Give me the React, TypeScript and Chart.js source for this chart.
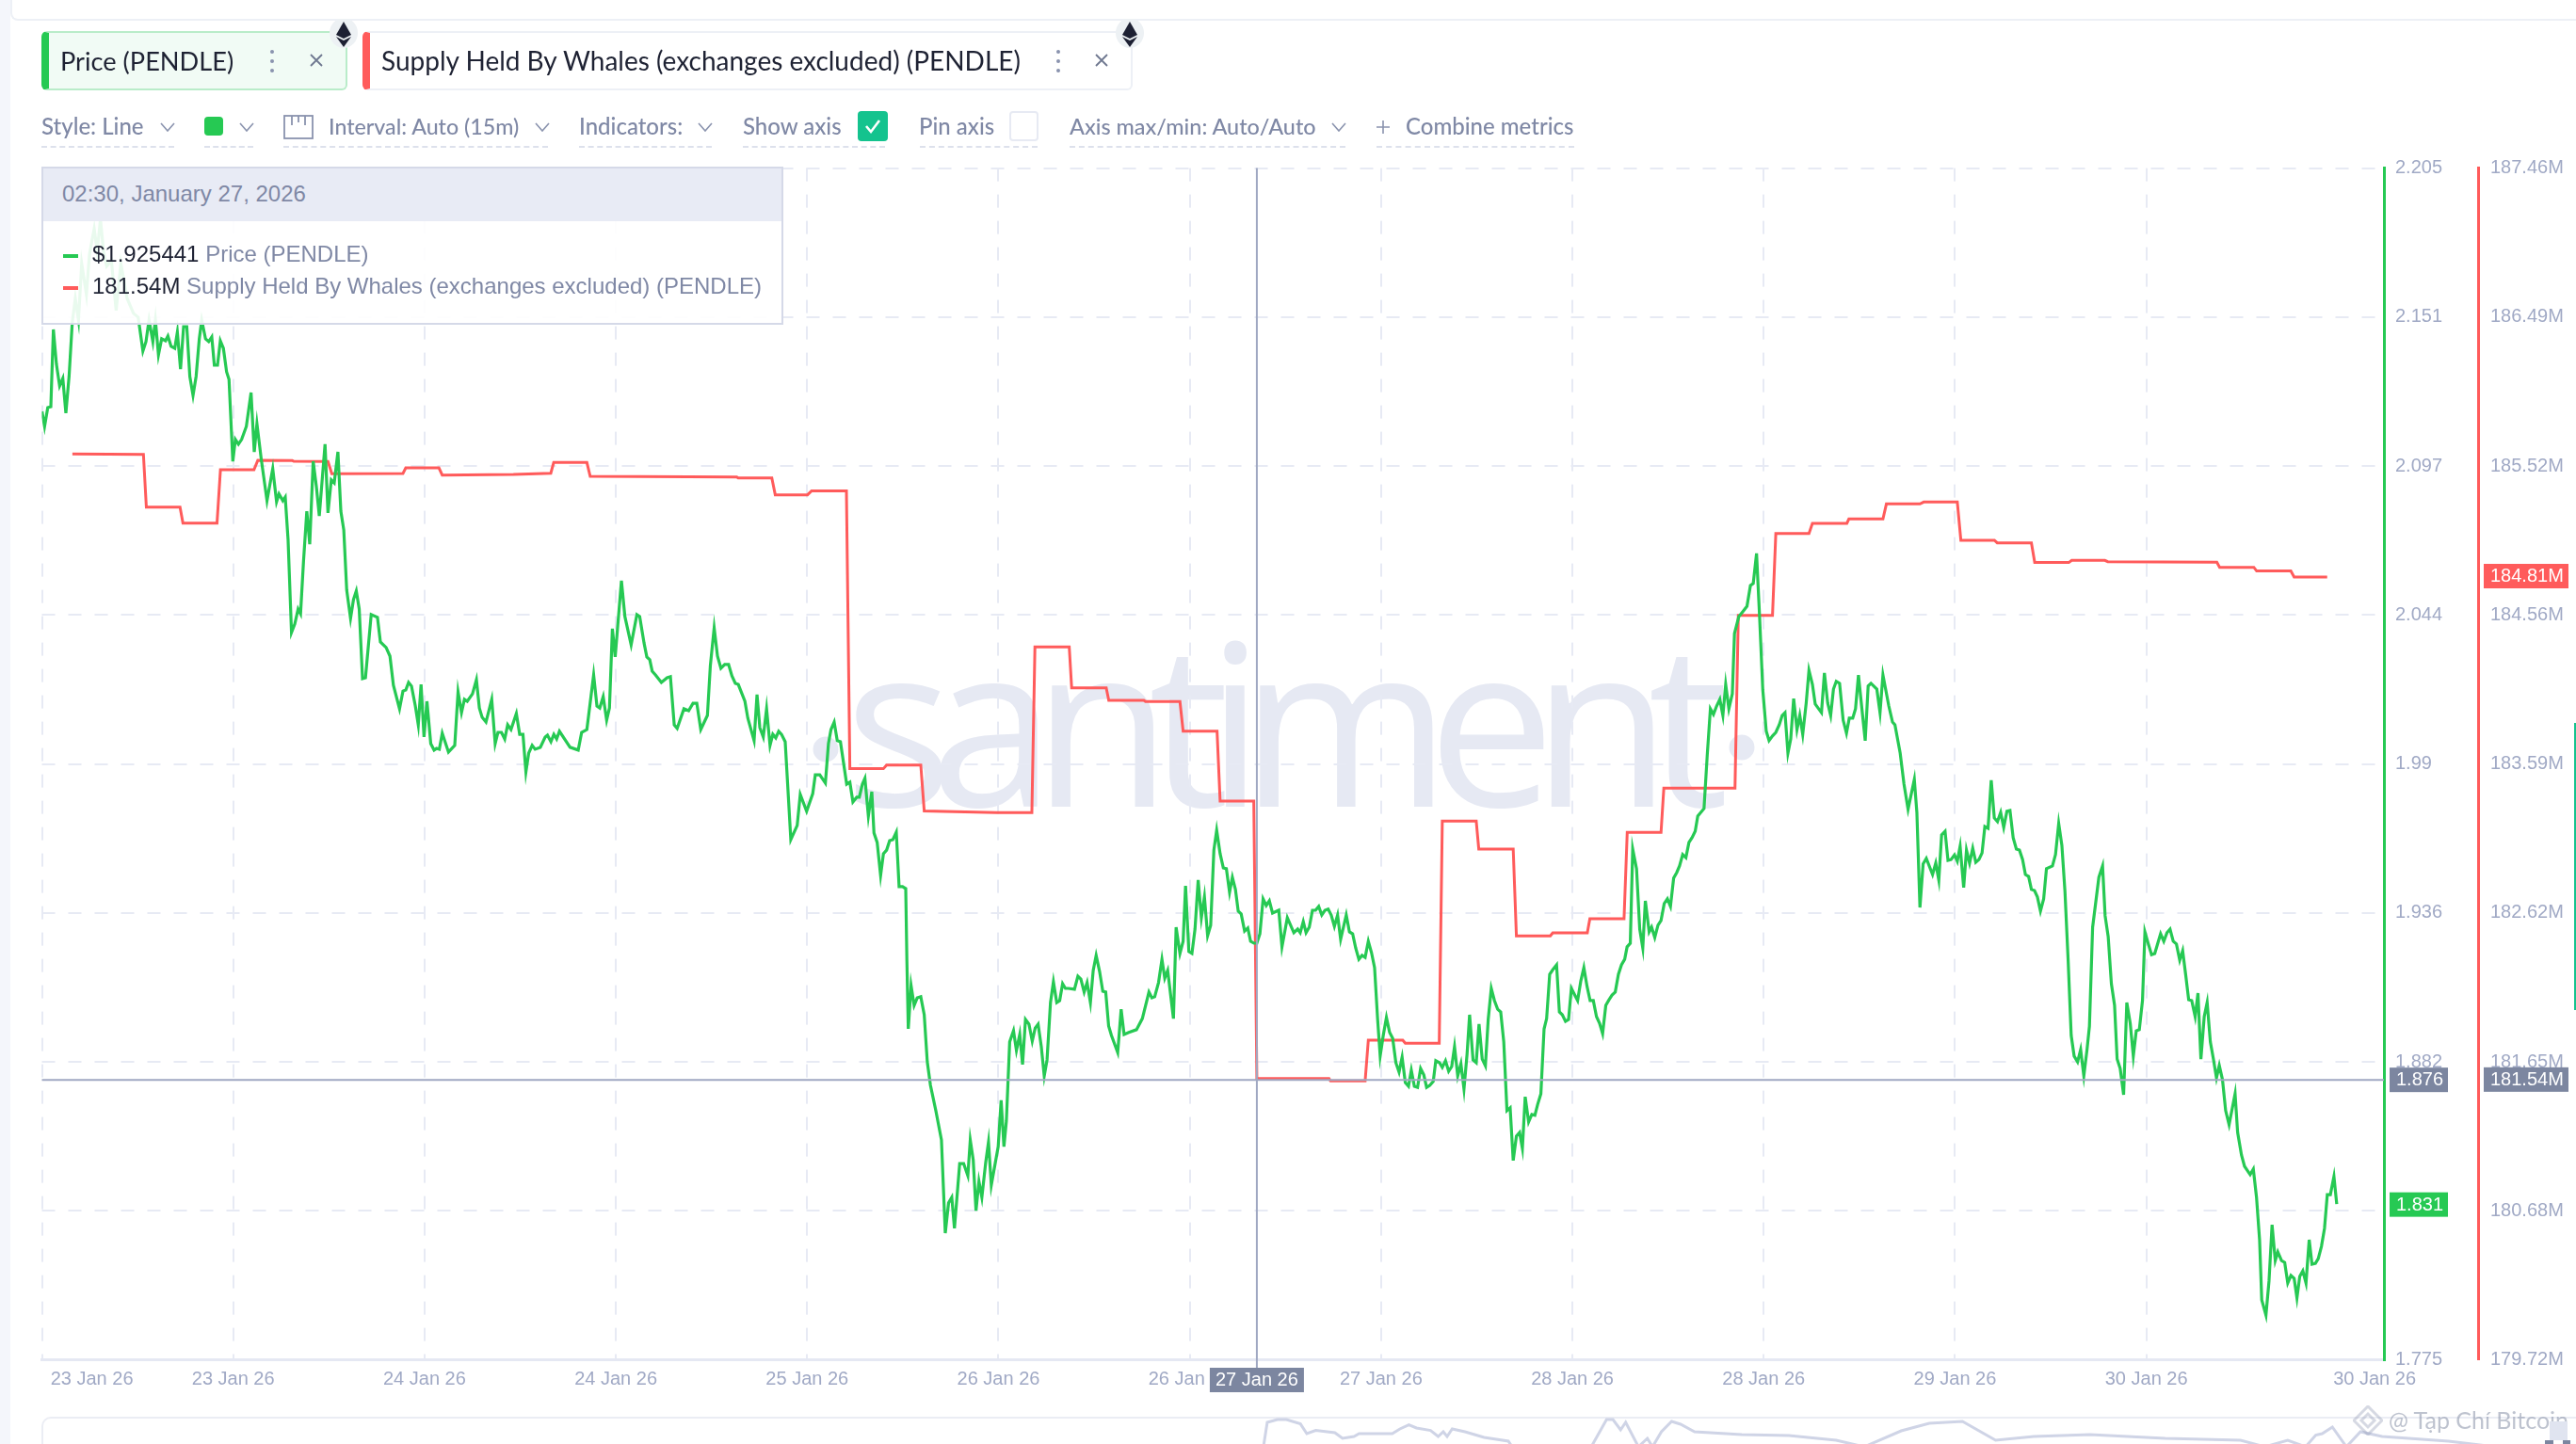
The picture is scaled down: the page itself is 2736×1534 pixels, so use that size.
import React, { useEffect, useRef } from 'react';
import { Chart, registerables } from 'chart.js';

Chart.register(...registerables);

// hours since the left edge of the chart, 15m data
const priceHours = [
  0.01, 0.21, 0.46, 0.7, 0.9, 1.14, 1.39, 1.64, 1.88, 2.13, 2.38, 2.62, 2.87, 3.12, 3.49, 3.73, 4.1, 4.34, 4.59, 4.83, 5.08, 5.45, 5.82, 6.19, 6.68, 7.18, 7.55, 7.92, 8.16, 8.4, 8.7, 8.9, 9.14, 9.39, 9.69, 9.88, 10.13, 10.42, 10.62, 10.87, 11.11, 11.36, 11.6, 11.85, 12.09, 12.34, 12.53, 12.83, 13.08, 13.32, 13.52, 13.77, 13.99, 14.23, 14.48, 14.67, 14.97, 15.17, 15.41, 15.66, 16.03, 16.4, 16.65, 16.86, 17.19, 17.65, 18.1, 18.4, 18.59, 18.89, 19.08, 19.3, 19.57, 19.83, 20.09, 20.28, 20.51, 20.77, 21.0, 21.27, 21.52, 21.75, 22.2, 22.43, 22.69, 22.92, 23.21, 23.44, 23.67, 23.9, 24.2, 24.43, 24.65, 24.88, 25.14, 25.37, 25.82, 26.31, 26.54, 26.99, 27.29, 27.56, 28.04, 28.31, 28.53, 28.75, 28.98, 29.28, 29.51, 29.73, 29.96, 30.19, 30.49, 30.75, 30.94, 31.16, 31.39, 31.88, 32.37, 32.63, 32.9, 33.13, 33.35, 33.76, 34.07, 34.3, 34.52, 34.82, 35.27, 35.54, 35.76, 36.03, 36.29, 36.52, 36.78, 37.2, 37.46, 37.72, 37.95, 38.17, 38.44, 38.67, 39.08, 39.46, 39.64, 39.91, 40.14, 40.36, 40.58, 41.41, 42.05, 42.32, 42.73, 43.26, 43.52, 43.74, 44.01, 44.28, 44.5, 44.73, 44.95, 45.44, 45.71, 46.2, 46.65, 46.87, 47.21, 47.43, 47.66, 47.85, 48.11, 48.57, 49.02, 49.28, 49.58, 49.81, 50.34, 50.71, 51.05, 51.35, 51.66, 52.18, 52.41, 52.71, 52.97, 53.24, 53.54, 53.84, 54.1, 54.37, 54.6, 55.12, 55.35, 55.84, 56.07, 56.29, 56.56, 56.82, 57.09, 57.31, 57.54, 57.77, 57.99,
  58.28, 58.72, 59.22, 59.46, 59.96, 60.44, 60.64, 60.99, 61.43, 61.67, 61.87, 62.12, 62.36, 62.61, 63.1, 63.35, 63.59, 63.89, 64.09, 64.33, 64.53, 64.8, 65.07, 65.24, 65.49, 65.76, 65.98, 66.23, 66.47, 66.72, 66.99, 67.21, 67.48, 67.73, 67.82, 67.93, 68.15, 68.39, 68.63, 68.91, 69.18, 69.42, 69.67, 70.09, 70.53, 70.83, 71.09, 71.34, 71.55, 71.96, 72.27, 72.6, 72.79, 73.02, 73.24, 73.47, 73.7, 74.0, 74.22, 74.44, 74.98, 75.21, 75.43, 75.62, 75.88, 76.18, 76.41, 76.67, 76.89, 77.12, 77.39, 77.65, 77.88, 78.11, 78.36, 78.59, 78.81, 79.08, 79.31, 79.57, 79.8, 80.03, 80.25, 80.48, 80.96, 81.23, 81.46, 81.72, 81.95, 82.21, 82.43, 82.66, 82.93, 83.18, 83.41, 83.64, 83.86, 84.35, 84.62, 84.85, 85.22, 85.82, 86.28, 86.8, 87.03, 87.25, 87.55, 87.82, 88.04, 88.27, 88.72, 88.93, 89.23, 89.48, 89.67, 89.93, 90.17, 90.41, 90.66, 90.91, 91.15, 91.4, 91.64, 91.89, 92.11, 92.38, 92.63, 92.87, 93.12, 93.34, 93.58, 93.8, 94.03, 94.3, 94.55, 94.77, 95.04, 95.26,
  95.5, 95.75, 96.0, 96.24, 96.49, 96.98, 97.23, 97.65, 98.16, 98.46, 98.66, 98.9, 99.12, 99.37, 99.62, 99.86, 100.11, 100.35, 100.6, 100.85, 101.09, 101.34, 101.59, 101.83, 102.27, 102.52, 102.77, 103.01, 103.26, 103.51, 103.75, 104.0, 104.25, 104.49, 104.73, 104.93, 105.17, 105.42, 105.67, 105.91, 106.16, 106.41, 106.65, 106.9, 107.15, 107.37, 107.61, 107.86, 108.1, 108.35, 108.57, 108.82, 109.09, 109.29, 109.58, 109.8, 110.05, 110.3, 110.54, 110.76, 111.01, 111.26, 111.5, 111.74, 111.94, 112.21, 112.46, 112.68, 112.93, 113.18, 113.4, 113.64, 113.89, 114.14, 114.38, 114.62, 114.87, 115.12, 115.36, 115.61, 115.86, 116.08, 116.3, 116.57, 116.82, 117.06, 117.28, 117.53, 117.78, 117.98, 118.22, 118.47, 118.76, 118.98, 119.21, 119.46, 119.7, 119.92, 120.41, 120.66, 120.9, 121.15, 121.39, 121.64, 121.89, 122.13, 122.37, 122.62, 122.87, 123.11, 123.36, 123.61, 123.85, 124.1, 124.29, 124.54, 124.73, 125.03, 125.28, 125.52, 125.72, 126.02, 126.21, 126.46, 126.71, 126.95, 127.2, 127.45, 127.69, 127.94, 128.18, 128.4, 128.65, 128.9, 129.14, 129.38, 129.63, 129.83, 130.32, 130.57, 130.82, 131.06, 131.31, 131.56, 131.8, 132.02, 132.27, 132.54, 132.71, 133.05, 133.35, 133.69, 133.96, 134.18, 134.44, 134.67, 134.93, 135.2, 135.42, 135.69, 135.95, 136.22, 136.45, 136.67, 136.9, 137.12, 137.35, 137.61, 137.83, 138.06, 138.33, 138.55, 138.82, 139.04, 139.53, 139.76, 140.02, 140.25, 140.47, 140.69, 140.95, 141.23, 141.49, 141.71, 141.98, 142.2, 142.43, 142.7, 142.96, 143.19, 143.41, 143.87, 144.12, 144.35, 144.81, 145.1, 145.29,
  145.7, 146.0, 146.32, 146.81, 147.01, 147.25, 147.5, 147.75, 148.24, 148.49, 148.73, 148.95, 149.22, 149.45, 149.69, 149.96, 150.18, 150.4, 150.68, 150.9, 151.14, 151.39, 151.63, 151.88, 152.12, 152.34, 152.59, 152.84, 153.08, 153.33, 153.58, 153.82, 154.07, 154.31, 154.56, 154.81, 155.05, 155.3, 155.52, 155.77, 155.99, 156.23, 156.46, 156.7, 156.95, 157.17, 157.64, 157.88, 158.13, 158.38, 158.62, 158.87, 159.11, 159.34, 159.61, 159.85, 160.1, 160.35, 160.54, 160.79, 161.28, 161.57, 161.77, 162.01, 162.26, 162.51, 162.71, 162.95, 163.22, 163.47, 163.74, 163.98, 164.21, 164.45, 164.7, 164.89, 165.16, 165.41, 165.66, 165.9, 166.12, 166.37, 166.62, 166.86, 167.11, 167.36, 167.62, 167.85, 168.1, 168.32, 168.56, 168.83, 169.05, 169.28, 169.54, 169.77, 170.02, 170.26, 170.5, 170.72, 170.97, 171.22, 171.49, 171.96, 172.16, 172.46, 172.7, 173.14, 173.39, 173.64, 173.88, 174.05, 174.38, 174.62, 174.86, 175.11, 175.31, 175.6, 175.85, 176.09, 176.34, 176.59, 176.81, 177.03, 177.27, 177.52, 177.77, 177.99, 178.26, 178.48, 178.73, 178.97, 179.19, 179.43, 179.71, 179.93,
];

const priceValues = [
  2.1172, 2.1118, 2.1186, 2.1189, 2.1468, 2.1342, 2.1264, 2.1291, 2.1166, 2.1298, 2.1492, 2.158, 2.1502, 2.1706, 2.1594, 2.174, 2.1832, 2.175, 2.1866, 2.175, 2.1696, 2.1716, 2.1536, 2.1706, 2.158, 2.1526, 2.1512, 2.139, 2.1424, 2.1502, 2.1424, 2.1502, 2.1376, 2.1434, 2.1427, 2.1444, 2.1407, 2.14, 2.1458, 2.1325, 2.1478, 2.1478, 2.1298, 2.123, 2.1298, 2.1434, 2.1502, 2.1434, 2.1424, 2.1441, 2.1339, 2.1339, 2.1427, 2.14, 2.1315, 2.1288, 2.0992, 2.1071, 2.1054, 2.1071, 2.1118, 2.124, 2.1026, 2.1128, 2.1003, 2.085, 2.0965, 2.0846, 2.0874, 2.085, 2.0863, 2.0711, 2.0374, 2.0405, 2.0459, 2.0442, 2.0629, 2.0812, 2.0693, 2.0992, 2.0901, 2.0795, 2.1054, 2.0806, 2.0925, 2.0914, 2.1026, 2.0812, 2.0744, 2.0527, 2.0425, 2.0493, 2.0524, 2.0459, 2.0208, 2.0211, 2.0439, 2.0429, 2.034, 2.032, 2.0289, 2.0184, 2.0099, 2.0163, 2.0167, 2.0194, 2.0181, 2.0109, 2.0041, 2.0187, 1.9997, 2.0126, 1.9973, 1.995, 1.9956, 1.9953, 2.0011, 1.9943, 1.9967, 2.016, 2.0085, 2.0133, 2.0126, 2.0153, 2.0204, 2.0102, 2.0068, 2.0051, 2.0133, 1.9973, 2.0014, 2.0014, 1.999, 2.0041, 2.0024, 2.0082, 2.0007, 2.0007, 1.9871, 1.9939, 1.9967, 1.9953, 1.996, 1.9997, 2.0004, 1.998, 2.0007, 1.999, 2.0018, 1.996, 1.995, 2.0014, 2.0024, 2.0221, 2.0109, 2.0102, 2.0143, 2.0058, 2.0102, 2.0388, 2.0286, 2.0561, 2.0432, 2.033, 2.0439, 2.0432, 2.0337, 2.0286, 2.0276, 2.0235, 2.0221, 2.0194, 2.0211, 2.0215, 2.0041, 2.0028, 2.0099, 2.0092, 2.0119, 2.0119, 2.0024, 2.0075, 2.0255, 2.0391, 2.0289, 2.0245, 2.0259, 2.0259, 2.0218, 2.0191, 2.0187, 2.0126, 2.0065, 1.9984, 2.015, 2.0031, 1.9997, 2.0099, 1.9967, 2.0007, 1.9994, 2.0018, 2.0007,
  1.998, 1.9627, 1.9678, 1.979, 1.9729, 1.9793, 1.9861, 1.9861, 1.9831, 1.9973, 2.0024, 2.0051, 1.9984, 1.998, 1.9827, 1.9834, 1.9763, 1.978, 1.978, 1.9827, 1.9848, 1.9712, 1.98, 1.9651, 1.9617, 1.9498, 1.9576, 1.9589, 1.9623, 1.9627, 1.9654, 1.9457, 1.9457, 1.945, 1.9192, 1.8944, 1.91, 1.9029, 1.9056, 1.906, 1.8995, 1.8825, 1.874, 1.8649, 1.8543, 1.8207, 1.8316, 1.8336, 1.8224, 1.8458, 1.8458, 1.8414, 1.8543, 1.8472, 1.8288, 1.8394, 1.8336, 1.8462, 1.8536, 1.838, 1.8519, 1.8686, 1.8519, 1.8611, 1.8897, 1.8937, 1.8866, 1.8924, 1.8815, 1.8978, 1.8961, 1.89, 1.8947, 1.8961, 1.888, 1.8774, 1.8832, 1.9039, 1.9114, 1.9039, 1.9046, 1.9107, 1.909, 1.909, 1.9087, 1.9134, 1.9124, 1.9077, 1.9111, 1.9039, 1.9155, 1.9209, 1.9151, 1.908, 1.9077, 1.8954, 1.892, 1.8859, 1.9015, 1.8924, 1.8931, 1.8941, 1.8981, 1.9077, 1.9056, 1.906, 1.9111, 1.9195, 1.9127, 1.9155, 1.8981, 1.9311, 1.9216, 1.926, 1.946, 1.9223, 1.9216, 1.9304, 1.9481, 1.9345, 1.942, 1.928, 1.9318, 1.9589, 1.9661, 1.9576, 1.9525, 1.9522, 1.9437, 1.9491, 1.9447, 1.9369, 1.9359, 1.9297, 1.9308, 1.926, 1.9253, 1.9253,
  1.9287, 1.9413, 1.9389, 1.9406, 1.9362, 1.9372, 1.924, 1.9345, 1.9291, 1.9304, 1.9291, 1.9331, 1.9291, 1.9311, 1.9372, 1.9372, 1.9386, 1.9355, 1.9372, 1.9376, 1.9355, 1.9314, 1.9355, 1.9267, 1.9355, 1.9294, 1.9287, 1.9236, 1.9195, 1.9209, 1.9202, 1.926, 1.9219, 1.9165, 1.8978, 1.8846, 1.892, 1.8985, 1.8931, 1.891, 1.8822, 1.8788, 1.8842, 1.875, 1.8737, 1.8795, 1.8737, 1.8733, 1.8801, 1.8778, 1.8733, 1.874, 1.8754, 1.8829, 1.8822, 1.8805, 1.8829, 1.8791, 1.8808, 1.888, 1.8774, 1.8818, 1.8727, 1.8852, 1.8995, 1.8832, 1.8822, 1.8961, 1.8835, 1.8811, 1.8978, 1.909, 1.9046, 1.9015, 1.9005, 1.8897, 1.8649, 1.8659, 1.8469, 1.8557, 1.857, 1.8513, 1.8699, 1.8608, 1.8635, 1.8632, 1.8672, 1.871, 1.8944, 1.8981, 1.9141, 1.9158, 1.9175, 1.9005, 1.8995, 1.8971, 1.8978, 1.909, 1.9046, 1.9117, 1.9165, 1.9097, 1.9046, 1.9046, 1.8988, 1.8964, 1.8927, 1.9029, 1.9049, 1.9066, 1.9077, 1.9141, 1.9175, 1.9195, 1.924, 1.9253, 1.9593, 1.9522, 1.9304, 1.9236, 1.9406, 1.9294, 1.9311, 1.9274, 1.9318, 1.9335, 1.9396, 1.9413, 1.9386, 1.9488, 1.9508, 1.9532, 1.9573, 1.9562, 1.9617, 1.9634, 1.9657, 1.9712, 1.9739, 1.9929, 2.0099, 2.0079, 2.0109, 2.0133, 2.0075, 2.0187, 2.0099, 2.0153, 2.0371, 2.0432, 2.0449, 2.0469, 2.0544, 2.0551, 2.066, 2.0439, 2.0167, 2.0018, 1.9984, 2.0001, 2.0014, 2.0041, 2.0075, 2.0085, 1.9939, 1.999, 2.0136, 2.0024, 2.0075, 2.0007, 2.0119, 2.0238, 2.0187, 2.0116, 2.0085, 2.0228, 2.0119, 2.0075, 2.017, 2.0198, 2.0191, 2.0058, 2.0011, 2.0065, 2.0065, 2.0099, 2.0221, 2.0099, 1.9984, 2.0181, 2.0191, 2.017, 2.0085, 2.0221, 2.0109, 2.0051, 2.0041,
  1.9939, 1.9827, 1.9736, 1.9844, 1.9725, 1.9382, 1.9539, 1.9559, 1.9501, 1.9542, 1.9481, 1.9644, 1.9657, 1.9552, 1.9555, 1.9572, 1.9549, 1.9603, 1.9454, 1.9589, 1.9542, 1.9596, 1.9545, 1.9555, 1.9579, 1.9674, 1.9668, 1.9841, 1.9705, 1.9692, 1.9725, 1.9671, 1.9729, 1.9732, 1.9634, 1.9593, 1.9589, 1.9555, 1.9501, 1.9494, 1.9447, 1.9443, 1.942, 1.9369, 1.9413, 1.9522, 1.9532, 1.9573, 1.9685, 1.9606, 1.944, 1.9192, 1.892, 1.8846, 1.8825, 1.8869, 1.8774, 1.8869, 1.8954, 1.9311, 1.9491, 1.9532, 1.9352, 1.9277, 1.9107, 1.9029, 1.8835, 1.8801, 1.8706, 1.9039, 1.8964, 1.8846, 1.8937, 1.8941, 1.9046, 1.9294, 1.925, 1.9212, 1.9216, 1.9253, 1.9287, 1.926, 1.9291, 1.9304, 1.926, 1.925, 1.9192, 1.9226, 1.9134, 1.9049, 1.9046, 1.8988, 1.9073, 1.8835, 1.8988, 1.9039, 1.8897, 1.8835, 1.8767, 1.8812, 1.8761, 1.8649, 1.8598, 1.871, 1.857, 1.8489, 1.8448, 1.8418, 1.8438, 1.8336, 1.8183, 1.7966, 1.7911, 1.8034, 1.8237, 1.8108, 1.8139, 1.8108, 1.8101, 1.8027, 1.8054, 1.8044, 1.7973, 1.8051, 1.8071, 1.8027, 1.8183, 1.8095, 1.8098, 1.8115, 1.8159, 1.8224, 1.8346, 1.8346, 1.8411, 1.8312,
];

const whaleHours = [
  2.39, 7.96, 8.19, 10.83, 11.06, 13.73, 14.0, 16.63, 16.93, 19.64, 19.75, 22.43, 22.73, 28.31, 28.53, 31.13, 31.39, 36.97, 39.9, 40.13, 42.73, 42.99, 54.48, 54.59, 57.23, 57.5, 60.03, 60.35, 63.08, 63.35, 65.98, 66.23, 68.91, 69.18, 74.84, 77.62, 77.86, 80.55, 80.74, 83.45, 83.65, 86.4, 86.53, 89.23, 89.48, 92.14, 92.38, 95.02, 95.26, 100.92, 101.04, 103.75, 104.0, 106.7, 106.9, 109.56, 109.8, 112.46, 112.66, 115.36, 115.61, 118.27, 118.46, 121.17, 121.37, 124.05, 124.3, 126.95, 127.17, 132.75, 133.01, 135.69, 135.95, 138.55, 138.82, 141.52, 141.68, 144.35, 144.62, 147.25, 147.55, 150.18, 150.46, 153.09, 153.31, 155.99, 156.25, 158.92, 159.15, 161.75, 161.98, 170.53, 170.75, 173.43, 173.65, 176.33, 176.59, 179.18,
];

// millions of PENDLE
const whaleValues = [
  185.603, 185.601, 185.258, 185.258, 185.154, 185.154, 185.501, 185.501, 185.562, 185.56, 185.556, 185.554, 185.475, 185.477, 185.513, 185.513, 185.466, 185.47, 185.478, 185.548, 185.548, 185.458, 185.454, 185.448, 185.448, 185.338, 185.338, 185.364, 185.364, 183.559, 183.559, 183.583, 183.583, 183.284, 183.274, 183.274, 184.35, 184.35, 184.084, 184.084, 184.003, 184.003, 183.995, 183.995, 183.803, 183.803, 183.349, 183.349, 181.546, 181.546, 181.531, 181.531, 181.796, 181.796, 181.776, 181.776, 183.219, 183.219, 183.037, 183.037, 182.473, 182.473, 182.493, 182.493, 182.585, 182.585, 183.145, 183.145, 183.433, 183.433, 184.555, 184.555, 185.087, 185.087, 185.153, 185.153, 185.181, 185.181, 185.279, 185.279, 185.291, 185.291, 185.043, 185.043, 185.026, 185.026, 184.898, 184.898, 184.912, 184.912, 184.904, 184.9, 184.867, 184.867, 184.843, 184.843, 184.804, 184.804,
];

// the little overview strip cut off at the bottom of the page
const overviewHours = [95.8, 96.1, 96.9, 97.6, 98.7, 99.2, 99.9, 101.4, 102, 102.9, 103.3, 105.9, 106.5, 107.2, 107.8, 108.9, 109.5, 109.9, 110.2, 110.6, 111.6, 113.1, 115, 115.3, 121.5, 122.7, 123.2, 123.8, 124.2, 125.2, 125.9, 126.3, 127, 127.8, 128.5, 129.6, 133.3, 137, 140.7, 142.9, 145.8, 148, 150.6, 153.2, 156.2, 160.6, 166.5, 172.4, 174.3, 176.1, 177.5, 178.3, 178.8, 179.6, 180.7, 181.8, 183.5, 188.7, 192.4];
const overviewValues = [-3, 23, 26, 26, 21.4, 11, 14.4, 12, 6, 8, 11, 11, 16, 20.4, 17, 14.4, 8, 13, 8, 16, 13, 7, 3, -3, -3, 26, 26, 15, 23, -3, 6, -3, 13, 24, 21, 13, 10, 9, 4, -3, 14, 22, 24, 4, 8, 10, 6, 4, -3, 4, -3, 9.5, 11, 18, -3, 13, 8, 3, -3];

const xTickHours = [0, 3.92, 15, 30, 45, 60, 75, 90, 105, 120, 135, 150, 165, 182.9];
const xTickLabels = ['', '23 Jan 26', '23 Jan 26', '24 Jan 26', '24 Jan 26', '25 Jan 26', '26 Jan 26', '26 Jan 26', '27 Jan 26', '28 Jan 26', '28 Jan 26', '29 Jan 26', '30 Jan 26', '30 Jan 26'];
const priceTicks = [1.775, 1.82875, 1.8825, 1.93625, 1.99, 2.04375, 2.0975, 2.15125, 2.205];
const priceTickLabels = ['1.775', '1.829', '1.882', '1.936', '1.99', '2.044', '2.097', '2.151', '2.205'];
const whaleTicks = [179.72, 180.6875, 181.655, 182.6225, 183.59, 184.5575, 185.525, 186.4925, 187.46];
const whaleTickLabels = ['179.72M', '180.68M', '181.65M', '182.62M', '183.59M', '184.56M', '185.52M', '186.49M', '187.46M'];

const crossHour = 95.26;
const crossPrice = 1.876;
const crossWhale = 181.54;
const lastPrice = 1.831;
const lastWhale = 184.81;

const GREEN = '#26C953';
const RED = '#FF5B5B';
const GRID = '#E7EAF4';
const AXIS_TEXT = '#A0A9C5';
const CROSS = '#A0A8C2';
const BADGE = '#7C86A0';
const UI_TEXT = '#7F88A5';
const UI_FONT = 'Lato, sans-serif';
const AXIS_FONT = '"Liberation Sans", sans-serif';

function badge(ctx: CanvasRenderingContext2D, text: string, left: number, width: number, y: number, color: string) {
  ctx.fillStyle = color;
  ctx.fillRect(left, y - 13, width, 26);
  ctx.fillStyle = '#fff';
  ctx.font = '20px ' + AXIS_FONT;
  ctx.textAlign = 'left';
  ctx.textBaseline = 'middle';
  ctx.fillText(text, left + 7, y + 0.5);
}

const watermark = {
  id: 'watermark',
  beforeDraw(chart: any) {
    const ctx = chart.ctx;
    ctx.save();
    ctx.fillStyle = '#E6E9F3';
    ctx.font = '241px "Open Sans", sans-serif';
    ctx.letterSpacing = '-24.5px';
    ctx.textAlign = 'left';
    ctx.textBaseline = 'alphabetic';
    ctx.fillText('santiment', 897, 857);
    // the two round dots sit at mid height, not on the baseline
    ctx.beginPath();
    ctx.arc(877, 796, 13.5, 0, Math.PI * 2);
    ctx.arc(1850, 794, 13.5, 0, Math.PI * 2);
    ctx.fill();
    ctx.restore();
  },
};

const crosshair = {
  id: 'crosshair',
  afterDraw(chart: any) {
    const { ctx, chartArea, scales } = chart;
    const x = scales.x.getPixelForValue(crossHour);
    const yp = scales.price.getPixelForValue(crossPrice);
    const yw = scales.whales.getPixelForValue(crossWhale);
    ctx.save();
    ctx.strokeStyle = CROSS;
    ctx.lineWidth = 2;
    ctx.beginPath();
    ctx.moveTo(x, chartArea.top);
    ctx.lineTo(x, chartArea.bottom + 10);
    ctx.moveTo(chartArea.left, yp);
    ctx.lineTo(chartArea.right, yp);
    ctx.stroke();

    badge(ctx, '1.876', 2538, 62, yp, BADGE);
    badge(ctx, '181.54M', 2638, 90, yw, BADGE);
    badge(ctx, '1.831', 2538, 62, scales.price.getPixelForValue(lastPrice), GREEN);
    badge(ctx, '184.81M', 2638, 90, scales.whales.getPixelForValue(lastWhale), RED);

    ctx.fillStyle = BADGE;
    ctx.fillRect(x - 50, 1453, 100, 26);
    ctx.fillStyle = '#fff';
    ctx.font = '20px ' + AXIS_FONT;
    ctx.textAlign = 'center';
    ctx.textBaseline = 'middle';
    ctx.fillText('27 Jan 26', x, 1466.5);
    ctx.restore();
  },
};

function MainChart() {
  const canvasRef = useRef<HTMLCanvasElement>(null);

  useEffect(() => {
    const canvas = canvasRef.current;
    if (!canvas) return;
    const axisFont = { family: '"Liberation Sans", sans-serif', size: 20 };
    const chart = new Chart(canvas, {
      type: 'line',
      data: {
        datasets: [
          {
            label: 'Price (PENDLE)',
            data: priceHours.map((h, i) => ({ x: h, y: priceValues[i] })),
            yAxisID: 'price',
            borderColor: GREEN,
            borderWidth: 3.2,
            pointRadius: 0,
            tension: 0,
          },
          {
            label: 'Supply Held By Whales (exchanges excluded) (PENDLE)',
            data: whaleHours.map((h, i) => ({ x: h, y: whaleValues[i] })),
            yAxisID: 'whales',
            borderColor: RED,
            borderWidth: 3,
            pointRadius: 0,
            tension: 0,
          },
        ],
      },
      options: {
        animation: false,
        responsive: false,
        devicePixelRatio: 1,
        layout: { autoPadding: false, padding: { left: 44.5, top: 178.6, right: 0, bottom: 0 } },
        plugins: { legend: { display: false }, tooltip: { enabled: false } },
        events: [],
        scales: {
          x: {
            type: 'linear',
            min: 0,
            max: 183.63,
            afterBuildTicks: (scale: any) => {
              scale.ticks = xTickHours.map((value) => ({ value }));
            },
            afterFit: (scale: any) => {
              scale.height = 89.5;
            },
            grid: {
              color: (c: any) => (c.index === 1 || c.index === xTickHours.length - 1 ? 'rgba(0,0,0,0)' : GRID),
              lineWidth: 2,
              drawTicks: false,
            },
            border: { color: '#E5E8F3', width: 3, dash: [14, 14] },
            ticks: {
              autoSkip: false,
              maxRotation: 0,
              minRotation: 0,
              padding: 9,
              color: AXIS_TEXT,
              font: axisFont,
              callback: (_v: any, i: number) => xTickLabels[i],
            },
          },
          price: {
            type: 'linear',
            position: 'right',
            min: 1.775,
            max: 2.205,
            afterBuildTicks: (scale: any) => {
              scale.ticks = priceTicks.map((value) => ({ value }));
            },
            afterFit: (scale: any) => {
              scale.width = 100;
            },
            grid: { color: GRID, lineWidth: 2, drawTicks: false },
            border: { color: GREEN, width: 3, dash: [14, 14] },
            ticks: {
              padding: 12,
              color: AXIS_TEXT,
              font: axisFont,
              callback: (_v: any, i: number) => priceTickLabels[i],
            },
          },
          whales: {
            type: 'linear',
            position: 'right',
            min: 179.72,
            max: 187.46,
            afterBuildTicks: (scale: any) => {
              scale.ticks = whaleTicks.map((value) => ({ value }));
            },
            afterFit: (scale: any) => {
              scale.width = 104;
            },
            grid: { display: true, drawOnChartArea: false, drawTicks: false },
            border: { color: RED, width: 3 },
            ticks: {
              padding: 13,
              color: AXIS_TEXT,
              font: axisFont,
              callback: (_v: any, i: number) => whaleTickLabels[i],
            },
          },
        },
      },
      plugins: [watermark, crosshair],
    } as any);
    return () => {
      chart.destroy();
    };
  }, []);

  return <canvas ref={canvasRef} width={2736} height={1534} style={{ position: 'absolute', left: 0, top: 0 }} />;
}

function OverviewChart() {
  const canvasRef = useRef<HTMLCanvasElement>(null);

  useEffect(() => {
    const canvas = canvasRef.current;
    if (!canvas) return;
    const chart = new Chart(canvas, {
      type: 'line',
      data: {
        datasets: [
          {
            data: overviewHours.map((h, i) => ({ x: h, y: overviewValues[i] })),
            borderColor: '#CFD4E6',
            borderWidth: 3,
            pointRadius: 0,
            tension: 0,
          },
        ],
      },
      options: {
        animation: false,
        responsive: false,
        devicePixelRatio: 1,
        events: [],
        plugins: { legend: { display: false }, tooltip: { enabled: false } },
        scales: {
          x: { type: 'linear', display: false, min: 0, max: 198.7 },
          y: { type: 'linear', display: false, min: 0, max: 28 },
        },
      },
    } as any);
    return () => {
      chart.destroy();
    };
  }, []);

  return <canvas ref={canvasRef} width={2692} height={28} style={{ position: 'absolute', left: 44, top: 1506 }} />;
}

function Chevron({ x }: { x: number }) {
  return (
    <svg width="16" height="10" style={{ position: 'absolute', left: x, top: 130 }}>
      <path d="M1 1 L8 9 L15 1" fill="none" stroke="#8A93AE" strokeWidth="1.6" />
    </svg>
  );
}

function Label({ x, size = 24, text }: { x: number; size?: number; text: string }) {
  return (
    <div style={{ position: 'absolute', left: x, top: 118, height: 32, font: '500 ' + size + 'px ' + UI_FONT, lineHeight: '32px', color: UI_TEXT, whiteSpace: 'nowrap' }}>
      {text}
    </div>
  );
}

function Underline({ x, w }: { x: number; w: number }) {
  return <div style={{ position: 'absolute', left: x, top: 155, width: w, borderTop: '2px dashed #DDE1EC' }} />;
}

function Eth({ x }: { x: number }) {
  return (
    <svg width="30" height="32" style={{ position: 'absolute', left: x - 15, top: 20 }}>
      <ellipse cx="15" cy="15" rx="15" ry="16" fill="#EDF1F4" />
      <polygon points="15,3 23,17 15,21 7,17" fill="#1D2033" />
      <polygon points="7,19 15,23 23,19 15,30" fill="#1D2033" />
    </svg>
  );
}

function Chip({ x, w, bar, bg, border, text, size, kebab, close }: { x: number; w: number; bar: string; bg: string; border: string; text: string; size: number; kebab: number; close: number }) {
  return (
    <React.Fragment>
      <div style={{ position: 'absolute', left: x, top: 33, width: w, height: 63, boxSizing: 'border-box', background: bg, border: '2px solid ' + border, borderLeft: '8px solid ' + bar, borderRadius: 6 }} />
      <div style={{ position: 'absolute', left: x + 20, top: 33, height: 63, font: size + 'px ' + UI_FONT, lineHeight: '63px', color: '#1E2233', whiteSpace: 'nowrap' }}>{text}</div>
      <svg width="6" height="26" style={{ position: 'absolute', left: kebab - 3, top: 52 }}>
        <circle cx="3" cy="3" r="2" fill="#8A93AE" />
        <circle cx="3" cy="13" r="2" fill="#8A93AE" />
        <circle cx="3" cy="23" r="2" fill="#8A93AE" />
      </svg>
      <svg width="14" height="14" style={{ position: 'absolute', left: close - 7, top: 57 }}>
        <path d="M1 1 L13 13 M13 1 L1 13" stroke="#6F7890" strokeWidth="1.8" />
      </svg>
    </React.Fragment>
  );
}

export default function App() {
  return (
    <div style={{ position: 'absolute', left: 0, top: 0, width: 2736, height: 1534, overflow: 'hidden', background: '#fff' }}>
      <div style={{ position: 'absolute', left: 0, top: 0, width: 11, height: 1534, background: '#F4F6FB' }} />
      <div style={{ position: 'absolute', left: 11, top: 0, width: 2730, height: 20, borderBottom: '2px solid #EDF0F6', borderLeft: '2px solid #EDF0F6', borderBottomLeftRadius: 8 }} />

      <MainChart />

      <div style={{ position: 'absolute', left: 44, top: 1505, width: 2720, height: 60, borderTop: '2px solid #EBEDF4', borderLeft: '2px solid #EBEDF4', borderTopLeftRadius: 10 }} />
      <OverviewChart />

      <Chip x={44} w={325} bar={GREEN} bg="#F1FBF5" border="#B9ECC9" text="Price (PENDLE)" size={27.2} kebab={289} close={336} />
      <Chip x={385} w={818} bar={RED} bg="#fff" border="#EDF0F6" text="Supply Held By Whales (exchanges excluded) (PENDLE)" size={28} kebab={1124} close={1170} />
      <Eth x={365} />
      <Eth x={1200} />

      <Label x={44} text="Style: Line" />
      <Chevron x={170} />
      <Underline x={44} w={141} />
      <div style={{ position: 'absolute', left: 217, top: 124, width: 20, height: 20, borderRadius: 4, background: GREEN }} />
      <Chevron x={254} />
      <Underline x={217} w={52} />
      <svg width="32" height="26" style={{ position: 'absolute', left: 301, top: 122 }}>
        <rect x="1" y="1" width="30" height="24" fill="none" stroke="#8A93AE" strokeWidth="1.8" />
        <path d="M9 1 V11 M16 1 V8 M23 1 V11" stroke="#8A93AE" strokeWidth="1.8" />
      </svg>
      <Label x={349} size={23.2} text="Interval: Auto (15m)" />
      <Chevron x={568} />
      <Underline x={301} w={281} />
      <Label x={615} text="Indicators:" />
      <Chevron x={741} />
      <Underline x={615} w={141} />
      <Label x={789} text="Show axis" />
      <div style={{ position: 'absolute', left: 911, top: 118, width: 32, height: 32, borderRadius: 4, background: '#14C38E' }}>
        <svg width="32" height="32">
          <path d="M9 16 L14 22 L23 10" fill="none" stroke="#fff" strokeWidth="2.6" />
        </svg>
      </div>
      <Underline x={789} w={151} />
      <Label x={976} text="Pin axis" />
      <div style={{ position: 'absolute', left: 1072, top: 118, width: 31, height: 32, boxSizing: 'border-box', borderRadius: 4, border: '2px solid #E7EAF3' }} />
      <Underline x={977} w={125} />
      <Label x={1136} size={23.4} text="Axis max/min: Auto/Auto" />
      <Chevron x={1414} />
      <Underline x={1136} w={293} />
      <svg width="14" height="14" style={{ position: 'absolute', left: 1462, top: 128 }}>
        <path d="M7 0 V14 M0 7 H14" stroke="#8A93AE" strokeWidth="1.6" />
      </svg>
      <Label x={1493} text="Combine metrics" />
      <Underline x={1462} w={210} />

      <div style={{ position: 'absolute', left: 44, top: 177, width: 788, height: 168, boxSizing: 'border-box', border: '2px solid #D5D9E8', background: 'rgba(255,255,255,0.9)', font: '24px ' + AXIS_FONT }}>
        <div style={{ height: 56, lineHeight: '53px', background: '#E8EBF5', paddingLeft: 20, color: UI_TEXT }}>02:30, January 27, 2026</div>
        <div style={{ position: 'absolute', left: 21, top: 91, width: 16, height: 4, background: GREEN }} />
        <div style={{ position: 'absolute', left: 52, top: 76, lineHeight: '30px', color: '#1E2233', whiteSpace: 'nowrap' }}>
          $1.925441 <span style={{ color: UI_TEXT }}>Price (PENDLE)</span>
        </div>
        <div style={{ position: 'absolute', left: 21, top: 125, width: 16, height: 4, background: RED }} />
        <div style={{ position: 'absolute', left: 52, top: 110, lineHeight: '30px', color: '#1E2233', whiteSpace: 'nowrap' }}>
          181.54M <span style={{ color: UI_TEXT }}>Supply Held By Whales (exchanges excluded) (PENDLE)</span>
        </div>
      </div>

      <div style={{ position: 'absolute', left: 2734, top: 768, width: 2, height: 305, background: '#14C38E' }} />

      <svg width="32" height="32" style={{ position: 'absolute', left: 2499, top: 1493, opacity: 0.35 }}>
        <path d="M16 1 L31 16 L16 31 L1 16 Z M16 9 L23 16 L16 23 L9 16 Z" fill="none" stroke="#8A93AE" strokeWidth="3" />
      </svg>
      <div style={{ position: 'absolute', left: 2537, top: 1493, font: '25px ' + UI_FONT, color: 'rgba(125,135,160,0.5)', whiteSpace: 'nowrap' }}>@ Tạp Chí Bitcoin</div>
      <div style={{ position: 'absolute', left: 2708, top: 1510, width: 19, height: 20, background: '#E0E4F0' }} />
      <div style={{ position: 'absolute', left: 2703, top: 1530, width: 9, height: 4, background: BADGE }} />
      <div style={{ position: 'absolute', left: 2722, top: 1530, width: 8, height: 4, background: BADGE }} />
    </div>
  );
}
